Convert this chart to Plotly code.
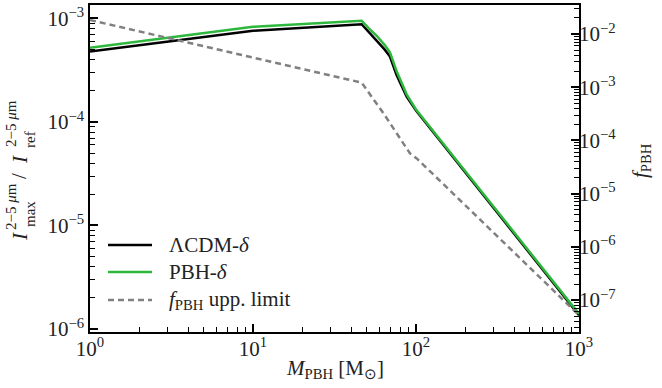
import plotly.graph_objects as go

# ---- data ----
mass_lcdm = [1, 10, 46.4, 51, 57.4, 64.5, 69.2, 76, 87.6, 100, 1000]
ratio_lcdm = [4.8e-4, 7.6e-4, 8.8e-4, 7.46e-4, 6.19e-4, 4.97e-4, 4.28e-4, 2.84e-4, 1.76e-4, 1.29e-4, 1.36e-6]

mass_pbh = [1, 10, 46.4, 51, 57.4, 64.5, 69.2, 76, 87.6, 100, 1000]
ratio_pbh = [5.2e-4, 8.3e-4, 9.5e-4, 8.1e-4, 6.8e-4, 5.5e-4, 4.7e-4, 3.1e-4, 1.85e-4, 1.32e-4, 1.4e-6]

mass_limit = [1, 10, 46.4, 63.1, 76, 91.9, 101, 1000]
fpbh_limit = [1.83e-2, 3.6e-3, 1.22e-3, 3.24e-4, 1.36e-4, 5.7e-5, 4.6e-5, 5.2e-8]

series_names = ["ΛCDM-<i>δ</i>", "PBH-<i>δ</i>", "<i>f</i><sub>PBH</sub> upp. limit"]

x_tickvals = [1, 10, 100, 1000]
x_ticktext = ["10<sup>0</sup>", "10<sup>1</sup>", "10<sup>2</sup>", "10<sup>3</sup>"]
y_tickvals = [1e-6, 1e-5, 1e-4, 1e-3]
y_ticktext = ["10<sup>−6</sup>", "10<sup>−5</sup>", "10<sup>−4</sup>", "10<sup>−3</sup>"]
y2_tickvals = [1e-7, 1e-6, 1e-5, 1e-4, 1e-3, 1e-2]
y2_ticktext = ["10<sup>−7</sup>", "10<sup>−6</sup>", "10<sup>−5</sup>", "10<sup>−4</sup>", "10<sup>−3</sup>", "10<sup>−2</sup>"]

FONT = "Liberation Serif"
FS = 21
TXT = "#222"
COLORS = ["black", "#2db83d", "#808080"]
DASHES = ["solid", "solid", "6px,4px"]

W, H = 662, 388
L, R, T, B = 90, 83, 5, 56
PW, PH = W - L - R, H - T - B


def px2paper(px, py):
    return (px - L) / PW, (H - B - py) / PH


fig = go.Figure()
fig.add_trace(go.Scatter(x=mass_lcdm, y=ratio_lcdm, mode="lines", name=series_names[0],
                         line=dict(color=COLORS[0], width=2.5)))
fig.add_trace(go.Scatter(x=mass_pbh, y=ratio_pbh, mode="lines", name=series_names[1],
                         line=dict(color=COLORS[1], width=2.5)))
fig.add_trace(go.Scatter(x=mass_limit, y=fpbh_limit, mode="lines", yaxis="y2",
                         name=series_names[2],
                         line=dict(color=COLORS[2], width=2.5, dash=DASHES[2])))

axis_common = dict(type="log", showgrid=False, zeroline=False, showline=True, automargin=False,
                   linecolor="black", linewidth=1.5, ticks="inside", ticklen=8,
                   tickwidth=2, tickcolor="black",
                   tickfont=dict(family=FONT, size=FS, color=TXT))
minor = dict(ticks="inside", ticklen=5, tickwidth=1.2, tickcolor="black", dtick="D1", showgrid=False)

fig.update_layout(
    template="none",
    width=W, height=H,
    margin=dict(l=L, r=R, t=T, b=B, autoexpand=False),
    paper_bgcolor="white", plot_bgcolor="white",
    font=dict(family=FONT, size=FS, color=TXT),
    xaxis=dict(**axis_common, range=[0, 3], tickvals=x_tickvals, ticktext=x_ticktext,
               mirror=True, minor=minor, ticklabelstandoff=-3),
    yaxis=dict(**axis_common, range=[-6.029, -2.87], tickvals=y_tickvals, ticktext=y_ticktext,
               mirror=True, minor=minor),
    yaxis2=dict(**axis_common, range=[-7.60, -1.455], tickvals=y2_tickvals, ticktext=y2_ticktext,
                overlaying="y", side="right", minor=minor, ticklabelstandoff=-6),
    showlegend=False,
)

# x-axis title
ax, ay = px2paper(335, 369)
fig.add_annotation(text="<i>M</i><sub>PBH</sub> [M<sub>⊙</sub>]", x=ax, y=ay, xref="paper", yref="paper",
                   showarrow=False, xanchor="center", yanchor="middle",
                   font=dict(family=FONT, size=FS, color=TXT))
# right axis title
ax, ay = px2paper(641, 161)
fig.add_annotation(text="<i>f</i><sub>PBH</sub>", x=ax, y=ay, xref="paper", yref="paper",
                   showarrow=False, textangle=-90, xanchor="center", yanchor="middle",
                   font=dict(family=FONT, size=FS, color=TXT))

# stacked left y-axis label built from pieces
small = 15
pieces = [
    ("<i>I</i>", FS, 20, 237),
    ("2−5 <i>μ</i>m", small, 11, 207),
    ("max", small, 30, 214),
    ("/", FS, 19, 176),
    ("<i>I</i>", FS, 20, 160),
    ("2−5 <i>μ</i>m", small, 11, 124),
    ("ref", small, 30, 140),
]
for txt, sz, px, py in pieces:
    ax, ay = px2paper(px, py)
    fig.add_annotation(text=txt, x=ax, y=ay, xref="paper", yref="paper",
                       showarrow=False, textangle=-90, xanchor="center", yanchor="middle",
                       font=dict(family=FONT, size=sz, color=TXT))

# legend drawn by hand (no frame, as in the reference)
legend_rows = [245, 272, 300]
for name, col, dash, py in zip(series_names, COLORS, DASHES, legend_rows):
    x0, y0 = px2paper(108, py)
    x1, _ = px2paper(152, py)
    fig.add_shape(type="line", x0=x0, x1=x1, y0=y0, y1=y0, xref="paper", yref="paper",
                  line=dict(color=col, width=2.5, dash=dash))
    tx, _ = px2paper(167, py)
    fig.add_annotation(text=name, x=tx, y=y0, xref="paper", yref="paper", showarrow=False,
                       xanchor="left", yanchor="middle", font=dict(family=FONT, size=FS, color=TXT))

fig.write_html("out.html", config={"displayModeBar": False},
               post_script="document.body.style.margin='0';document.body.style.overflow='hidden';")
